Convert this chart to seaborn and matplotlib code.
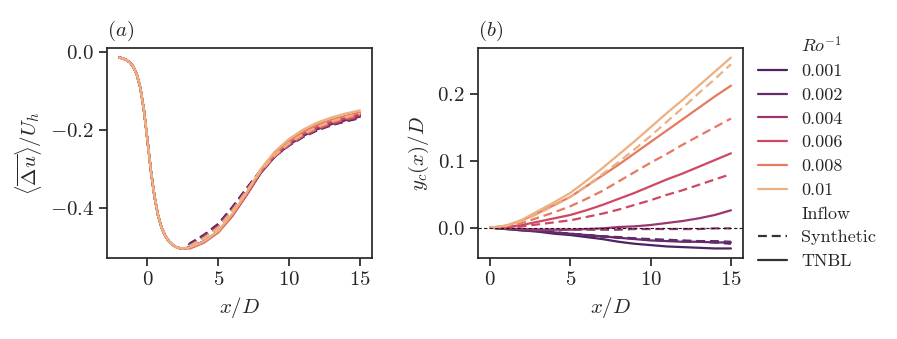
import numpy as np
import pandas as pd
import matplotlib
matplotlib.use("Agg")
import matplotlib.pyplot as plt
import seaborn as sns
from matplotlib.ticker import MultipleLocator

# ---------------- data ----------------
ro_values = [0.001, 0.002, 0.004, 0.006, 0.008, 0.01]
inflow_types = ["Synthetic", "TNBL"]

# panel (a): velocity deficit, shared upstream part + per-series downstream part
xa_head = [-2, -1.75, -1.5, -1.25, -1, -0.75, -0.5, -0.25, 0, 0.25, 0.5, 0.75,
           1, 1.25, 1.5, 1.75, 2, 2.25, 2.5, 2.75]
ua_head = [-0.015, -0.017, -0.021, -0.027, -0.038, -0.058, -0.092, -0.148,
           -0.225, -0.305, -0.370, -0.418, -0.450, -0.470, -0.484, -0.493,
           -0.499, -0.502, -0.503, -0.502]
xa_tail = [3, 4, 5, 6, 7, 8, 9, 10, 11, 12, 13, 14, 15]
ua_tnbl = {
    0.001: [-0.500, -0.485, -0.460, -0.418, -0.366, -0.310, -0.268, -0.238, -0.215, -0.198, -0.185, -0.175, -0.166],
    0.002: [-0.500, -0.485, -0.459, -0.417, -0.365, -0.309, -0.267, -0.237, -0.214, -0.197, -0.184, -0.174, -0.165],
    0.004: [-0.501, -0.486, -0.460, -0.418, -0.365, -0.308, -0.266, -0.236, -0.213, -0.195, -0.182, -0.172, -0.163],
    0.006: [-0.503, -0.488, -0.462, -0.420, -0.366, -0.308, -0.264, -0.233, -0.209, -0.192, -0.179, -0.169, -0.160],
    0.008: [-0.502, -0.487, -0.461, -0.418, -0.364, -0.305, -0.261, -0.229, -0.205, -0.187, -0.174, -0.164, -0.155],
    0.01:  [-0.500, -0.485, -0.458, -0.414, -0.360, -0.300, -0.255, -0.223, -0.199, -0.181, -0.168, -0.158, -0.150],
}
ua_syn = {
    0.001: [-0.490, -0.468, -0.440, -0.397, -0.349, -0.303, -0.267, -0.240, -0.218, -0.201, -0.188, -0.178, -0.170],
    0.002: [-0.492, -0.470, -0.442, -0.399, -0.351, -0.304, -0.267, -0.239, -0.217, -0.200, -0.187, -0.177, -0.169],
    0.004: [-0.494, -0.473, -0.445, -0.402, -0.353, -0.305, -0.267, -0.238, -0.216, -0.199, -0.186, -0.175, -0.167],
    0.006: [-0.495, -0.474, -0.447, -0.404, -0.355, -0.306, -0.267, -0.238, -0.215, -0.197, -0.184, -0.173, -0.165],
    0.008: [-0.496, -0.476, -0.449, -0.406, -0.356, -0.306, -0.266, -0.236, -0.213, -0.195, -0.181, -0.170, -0.162],
    0.01:  [-0.497, -0.477, -0.450, -0.407, -0.357, -0.305, -0.264, -0.233, -0.210, -0.192, -0.178, -0.167, -0.158],
}

# panel (b): wake centre deflection
xb = [0, 1, 2, 3, 4, 5, 6, 7, 8, 9, 10, 11, 12, 13, 14, 15]
yc_tnbl = {
    0.001: [0, -0.002, -0.004, -0.006, -0.009, -0.011, -0.014, -0.017, -0.021, -0.024, -0.026, -0.028, -0.029, -0.030, -0.031, -0.031],
    0.002: [0, -0.002, -0.004, -0.005, -0.007, -0.009, -0.011, -0.013, -0.015, -0.017, -0.019, -0.020, -0.021, -0.021, -0.022, -0.022],
    0.004: [0, -0.001, -0.002, -0.003, -0.003, -0.003, -0.002, -0.001, 0.001, 0.002, 0.004, 0.007, 0.010, 0.014, 0.019, 0.026],
    0.006: [0, 0.001, 0.004, 0.009, 0.014, 0.019, 0.026, 0.034, 0.043, 0.052, 0.062, 0.072, 0.081, 0.091, 0.101, 0.111],
    0.008: [0, 0.003, 0.011, 0.022, 0.034, 0.046, 0.062, 0.078, 0.094, 0.111, 0.128, 0.145, 0.162, 0.179, 0.196, 0.212],
    0.01:  [0, 0.003, 0.012, 0.025, 0.038, 0.052, 0.070, 0.089, 0.109, 0.129, 0.150, 0.171, 0.191, 0.212, 0.233, 0.254],
}
yc_syn = {
    0.001: [0, -0.001, -0.003, -0.005, -0.007, -0.009, -0.011, -0.013, -0.015, -0.016, -0.018, -0.019, -0.020, -0.021, -0.022, -0.024],
    0.002: [0, -0.001, -0.003, -0.005, -0.007, -0.009, -0.011, -0.013, -0.014, -0.016, -0.017, -0.018, -0.019, -0.020, -0.020, -0.021],
    0.004: [0, -0.001, -0.002, -0.003, -0.003, -0.003, -0.003, -0.003, -0.003, -0.002, -0.002, -0.002, -0.002, -0.002, -0.001, -0.001],
    0.006: [0, 0.000, 0.002, 0.005, 0.008, 0.011, 0.016, 0.021, 0.027, 0.034, 0.041, 0.049, 0.056, 0.064, 0.072, 0.080],
    0.008: [0, 0.002, 0.007, 0.015, 0.023, 0.032, 0.043, 0.055, 0.069, 0.083, 0.097, 0.110, 0.124, 0.137, 0.150, 0.163],
    0.01:  [0, 0.003, 0.010, 0.021, 0.033, 0.046, 0.062, 0.080, 0.098, 0.117, 0.137, 0.158, 0.179, 0.201, 0.222, 0.244],
}

HUE = r"$Ro^{-1}$"

rows_a = []
rows_b = []
for ro in ro_values:
    for inflow, tail_dict, yc_dict in (("Synthetic", ua_syn, yc_syn), ("TNBL", ua_tnbl, yc_tnbl)):
        for xv, uv in zip(xa_head + xa_tail, ua_head + tail_dict[ro]):
            rows_a.append({"x": xv, "u": uv, HUE: ro, "Inflow": inflow})
        for xv, yv in zip(xb, yc_dict[ro]):
            rows_b.append({"x": xv, "yc": yv, HUE: ro, "Inflow": inflow})
dfa = pd.DataFrame(rows_a)
dfb = pd.DataFrame(rows_b)

# ---------------- style ----------------
sns.set_theme(style="ticks")
FS = 15
plt.rcParams["font.family"] = ["cmr10", "DejaVu Serif"]
plt.rcParams["mathtext.fontset"] = "cm"
plt.rcParams["axes.formatter.use_mathtext"] = True
plt.rcParams["font.size"] = FS
plt.rcParams["axes.labelsize"] = FS
plt.rcParams["xtick.labelsize"] = FS
plt.rcParams["ytick.labelsize"] = FS
plt.rcParams["axes.unicode_minus"] = True

fig = plt.figure(figsize=(8.97, 3.39), dpi=100)
axa = fig.add_axes([107 / 897, 81 / 339, 265 / 897, 210 / 339])
axb = fig.add_axes([478 / 897, 81 / 339, 265 / 897, 210 / 339])

dash_map = {"Synthetic": (4, 2.2), "TNBL": ""}
common = dict(hue=HUE, style="Inflow", style_order=inflow_types, dashes=dash_map,
              palette="flare_r", hue_norm=(0.001, 0.01), estimator=None,
              linewidth=1.6, sort=False)

sns.lineplot(data=dfa, x="x", y="u", legend=False, ax=axa, **common)
sns.lineplot(data=dfb, x="x", y="yc", legend="full", ax=axb, **common)
axb.axhline(0, color="k", ls="--", lw=0.8, dashes=(3, 2), zorder=5)

axa.set_xlabel(r"$x/D$")
axa.set_ylabel(r"$\langle\overline{\Delta u}\rangle/U_h$")
axb.set_xlabel(r"$x/D$")
axb.set_ylabel(r"$y_c(x)/D$")

for ax in (axa, axb):
    ax.xaxis.set_major_locator(MultipleLocator(5))
axa.yaxis.set_major_locator(MultipleLocator(0.2))
axb.yaxis.set_major_locator(MultipleLocator(0.1))

axa.set_title(r"$(a)$", loc="left", pad=9, fontsize=FS)
axb.set_title(r"$(b)$", loc="left", pad=9, fontsize=FS)

sns.move_legend(axb, "upper left", bbox_to_anchor=(0.995, 1.14), frameon=False,
                handlelength=1.6, fontsize=13, labelspacing=0.45)

fig.savefig("out.png", dpi=100)
